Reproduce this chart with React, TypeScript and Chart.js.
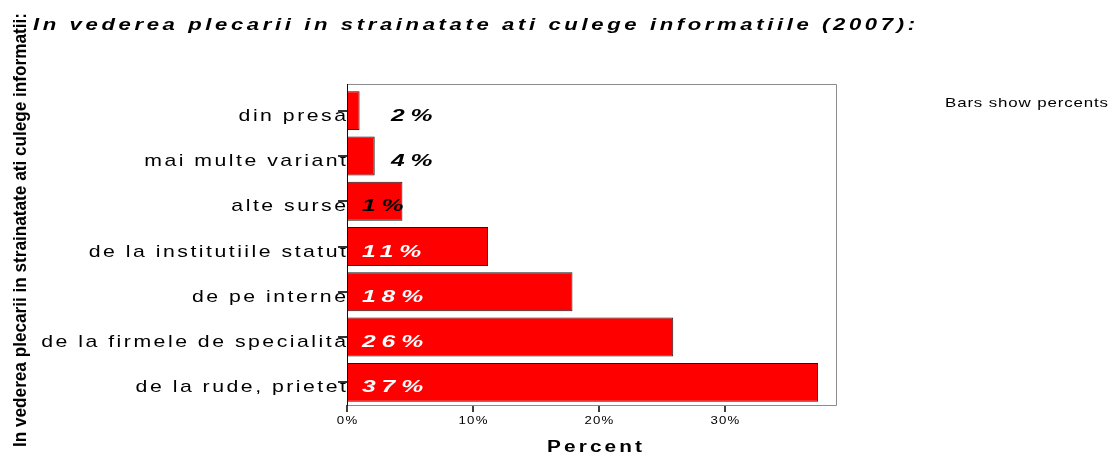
import React, { useEffect, useRef } from "react";
import { Chart, registerables } from "chart.js";

Chart.register(...registerables);

const chartTitle = "In vederea plecarii in strainatate ati culege informatiile (2007):";
const yAxisTitle = "In vederea plecarii in strainatate ati culege informatii:";
const xAxisTitle = "Percent";
const noteText = "Bars show percents";

const categories = [
  "din presa",
  "mai multe variant",
  "alte surse",
  "de la institutiile statut",
  "de pe interne",
  "de la firmele de specialita",
  "de la rude, prietet",
];
const percentValues = [1.0, 2.2, 4.4, 11.2, 17.9, 25.9, 37.4];
const barLabels = ["2%", "4%", "1%", "11%", "18%", "26%", "37%"];
const xTickSuffix = "%";

const FONT = "'Liberation Sans', Arial, Helvetica, sans-serif";

function spacedText(
  ctx: CanvasRenderingContext2D,
  text: string,
  x: number,
  y: number,
  font: string,
  color: string,
  spacing: number,
  align: "left" | "right" | "center",
  scaleX = 1
) {
  ctx.save();
  ctx.font = font;
  ctx.fillStyle = color;
  ctx.textAlign = "left";
  ctx.textBaseline = "alphabetic";
  (ctx as any).letterSpacing = "0px";
  const w = ctx.measureText(text).width;
  const n = Array.from(text).length;
  const total = (w + spacing * (n - 1)) * scaleX;
  let sx = x;
  if (align === "right") sx = x - total;
  else if (align === "center") sx = x - total / 2;
  (ctx as any).letterSpacing = spacing + "px";
  ctx.translate(sx, y);
  ctx.scale(scaleX, 1);
  ctx.fillText(text, 0, 0);
  ctx.restore();
}

function fitText(
  ctx: CanvasRenderingContext2D,
  text: string,
  x: number,
  y: number,
  font: string,
  color: string,
  width: number,
  align: "left" | "right" | "center",
  scaleX = 1
) {
  ctx.save();
  ctx.font = font;
  (ctx as any).letterSpacing = "0px";
  const w = ctx.measureText(text).width;
  ctx.restore();
  const n = Array.from(text).length;
  const sp = n > 1 ? (width / scaleX - w) / (n - 1) : 0;
  spacedText(ctx, text, x, y, font, color, sp, align, scaleX);
}

const decorPlugin = {
  id: "decor",
  beforeDraw(chart: any) {
    const ctx: CanvasRenderingContext2D = chart.ctx;
    const area = chart.chartArea;
    const ys = chart.scales.y;
    // category labels (drawn under the tick marks)
    categories.forEach((c, i) => {
      const y = ys.getPixelForValue(i);
      spacedText(ctx, c, area.left - 1, y + 10, `17px ${FONT}`, "#000", 2, "right", 1.25);
    });
  },
  afterDraw(chart: any) {
    const ctx: CanvasRenderingContext2D = chart.ctx;
    const area = chart.chartArea;
    const xs = chart.scales.x;
    const ys = chart.scales.y;

    // plot frame
    ctx.save();
    ctx.lineWidth = 1;
    ctx.strokeStyle = "#8c8c8c";
    ctx.beginPath();
    ctx.moveTo(area.left, area.top - 4 + 0.5);
    ctx.lineTo(area.right - 0.5, area.top - 4 + 0.5);
    ctx.lineTo(area.right - 0.5, area.bottom + 0.5);
    ctx.lineTo(area.left, area.bottom + 0.5);
    ctx.stroke();
    ctx.strokeStyle = "#111";
    ctx.beginPath();
    ctx.moveTo(area.left + 0.5, area.top - 4);
    ctx.lineTo(area.left + 0.5, area.bottom + 1);
    ctx.stroke();
    ctx.restore();

    // title
    fitText(ctx, chartTitle, 33, 30, `italic bold 17px ${FONT}`, "#000", 882, "left", 1.3);

    // note
    fitText(ctx, noteText, 945, 107, `13px ${FONT}`, "#000", 163, "left", 1.3);

    // bar labels
    percentValues.forEach((v, i) => {
      const y = ys.getPixelForValue(i) + 10;
      const inside = v > 3;
      const x = inside ? xs.getPixelForValue(1.2) : xs.getPixelForValue(3.5);
      const color = v > 10 ? "#fff" : "#000";
      spacedText(ctx, barLabels[i], x, y, `italic bold 17px ${FONT}`, color, 4, "left", 1.45);
    });

    // x tick labels
    xs.ticks.forEach((t: any) => {
      const px = xs.getPixelForValue(t.value);
      spacedText(ctx, t.value + xTickSuffix, px, 424, `11px ${FONT}`, "#000", 1, "center", 1.2);
    });

    // x axis title
    fitText(ctx, xAxisTitle, 547, 452, `bold 16px ${FONT}`, "#000", 95, "left", 1.3);

    // y axis title (compressed)
    ctx.save();
    ctx.font = `bold 18px ${FONT}`;
    (ctx as any).letterSpacing = "0px";
    const w = ctx.measureText(yAxisTitle).width;
    const s = 434 / w;
    ctx.translate(26, 230);
    ctx.rotate(-Math.PI / 2);
    ctx.scale(s, 1);
    ctx.fillStyle = "#000";
    ctx.textAlign = "center";
    ctx.textBaseline = "alphabetic";
    ctx.fillText(yAxisTitle, 0, 0);
    ctx.restore();
  },
};

export default function App() {
  const ref = useRef<HTMLCanvasElement>(null);
  useEffect(() => {
    if (!ref.current) return;
    const chart = new Chart(ref.current, {
      type: "bar",
      data: {
        labels: categories,
        datasets: [
          {
            data: percentValues,
            backgroundColor: "#ff0000",
            borderColor: "#1a1a1a",
            borderWidth: 1,
            barPercentage: 0.86,
            categoryPercentage: 1,
          },
        ],
      },
      options: {
        indexAxis: "y",
        responsive: true,
        maintainAspectRatio: false,
        animation: false,
        layout: { padding: { top: 88, right: 272, bottom: 0, left: 0 } },
        plugins: {
          legend: { display: false },
          tooltip: { enabled: false },
          title: { display: false },
        },
        scales: {
          x: {
            type: "linear",
            min: 0,
            max: 38.9,
            ticks: { display: false, stepSize: 10, includeBounds: false },
            grid: {
              drawOnChartArea: false,
              drawTicks: true,
              tickLength: 7,
              color: "#404040",
              lineWidth: 2,
            },
            border: { display: false },
            afterFit: (s: any) => {
              s.height = 47;
            },
          },
          y: {
            type: "category",
            ticks: { display: false },
            grid: {
              drawOnChartArea: false,
              drawTicks: true,
              offset: false,
              tickLength: 9,
              color: "#333333",
              lineWidth: 2,
            },
            border: { display: false },
            afterFit: (s: any) => {
              s.width = 347;
            },
          },
        },
      } as any,
      plugins: [decorPlugin],
    });
    return () => chart.destroy();
  }, []);
  return (
    <div
      style={{
        position: "fixed",
        left: 0,
        top: 0,
        width: 1109,
        height: 452,
        background: "#fff",
      }}
    >
      <canvas ref={ref} />
    </div>
  );
}
